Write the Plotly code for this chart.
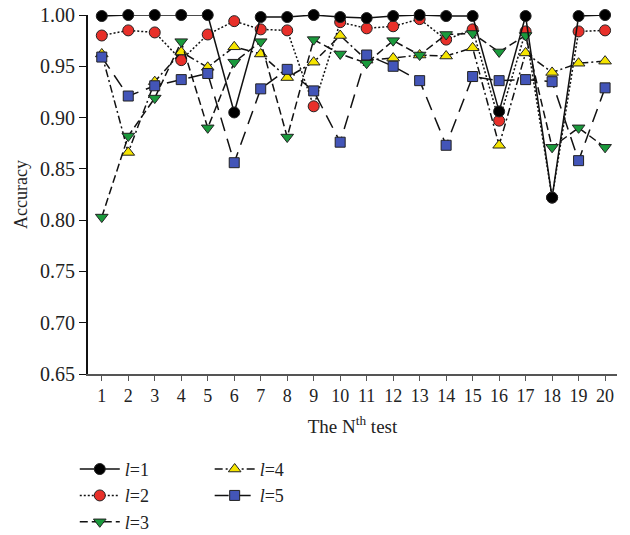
import plotly.graph_objects as go

tests = list(range(1, 21))
acc_l1 = [0.999, 1.000, 1.000, 1.000, 1.000, 0.905, 0.998, 0.998, 1.000, 0.998,
          0.997, 0.999, 1.000, 0.999, 0.999, 0.906, 0.999, 0.822, 0.999, 1.000]
acc_l2 = [0.980, 0.985, 0.983, 0.956, 0.981, 0.994, 0.986, 0.985, 0.911, 0.993,
          0.987, 0.989, 0.996, 0.976, 0.986, 0.897, 0.984, 0.822, 0.984, 0.985]
acc_l3 = [0.803, 0.882, 0.919, 0.974, 0.890, 0.954, 0.974, 0.881, 0.976, 0.962,
          0.953, 0.975, 0.961, 0.981, 0.982, 0.964, 0.980, 0.871, 0.890, 0.871]
acc_l4 = [0.962, 0.866, 0.935, 0.964, 0.949, 0.969, 0.962, 0.939, 0.954, 0.980,
          0.956, 0.958, 0.961, 0.960, 0.968, 0.873, 0.963, 0.944, 0.953, 0.955]
acc_l5 = [0.959, 0.921, 0.931, 0.937, 0.943, 0.856, 0.928, 0.947, 0.926, 0.876,
          0.961, 0.950, 0.936, 0.873, 0.940, 0.936, 0.937, 0.935, 0.858, 0.929]
y_ticks = [0.65, 0.70, 0.75, 0.80, 0.85, 0.90, 0.95, 1.00]

FONT = "Liberation Serif"
series = [
    # name, data, color, symbol, size, dash, legend, rank
    ("<i>l</i>=2", acc_l2, "#e8302a", "circle", 11, "2px,2px", "legend", 2),
    ("<i>l</i>=4", acc_l4, "#f5e400", "triangle-up", 11, "8px,3px,2px,3px", "legend2", 4),
    ("<i>l</i>=5", acc_l5, "#4355b8", "square", 10, "14px,8px", "legend2", 5),
    ("<i>l</i>=3", acc_l3, "#1a9a3c", "triangle-down", 11, "8px,4px", "legend", 3),
    ("<i>l</i>=1", acc_l1, "#000000", "circle", 11, "solid", "legend", 1),
]

fig = go.Figure()
for name, data, color, sym, size, dash, leg, rank in series:
    fig.add_trace(go.Scatter(
        x=tests, y=data, name=name, mode="lines+markers",
        line=dict(color="#111111", width=1.5, dash=dash),
        marker=dict(symbol=sym, size=size, color=color,
                    line=dict(color="#222222", width=1)),
        legend=leg, legendrank=rank, cliponaxis=False,
    ))

legend_common = dict(font=dict(family=FONT, size=18, color="#222"),
                     bgcolor="rgba(0,0,0,0)", yanchor="top", xanchor="left",
                     tracegroupgap=0, itemwidth=40)
fig.update_layout(
    width=630, height=535,
    margin=dict(l=80, r=21, t=7, b=169, autoexpand=False),
    plot_bgcolor="white", paper_bgcolor="white",
    font=dict(family=FONT, color="#222"),
    legend=dict(x=-0.025, y=-0.214, **legend_common),
    legend2=dict(x=0.23, y=-0.214, **legend_common),
    xaxis=dict(
        range=[0.48, 20.45], tickvals=tests, ticktext=[str(t) for t in tests],
        showgrid=False, zeroline=False, showline=True, linecolor="#555",
        linewidth=1.5, ticks="outside", ticklen=5, tickcolor="#555",
        ticklabelstandoff=0, ticklabeloverflow="allow",
        tickfont=dict(family=FONT, size=18, color="#222"),
        title=dict(text="The N<sup>th</sup> test", font=dict(family=FONT, size=19, color="#222"), standoff=14),
    ),
    yaxis=dict(
        range=[0.65, 1.0], tickvals=y_ticks, ticktext=[f"{v:.2f}" for v in y_ticks],
        showgrid=False, zeroline=False, showline=True, linecolor="#111",
        linewidth=2, ticks="outside", ticklen=7, tickcolor="#111",
        ticklabeloverflow="allow",
        tickfont=dict(family=FONT, size=20, color="#222"),
        title=dict(text="Accuracy", font=dict(family=FONT, size=18, color="#222"), standoff=8),
    ),
)
fig.write_html("out.html")
